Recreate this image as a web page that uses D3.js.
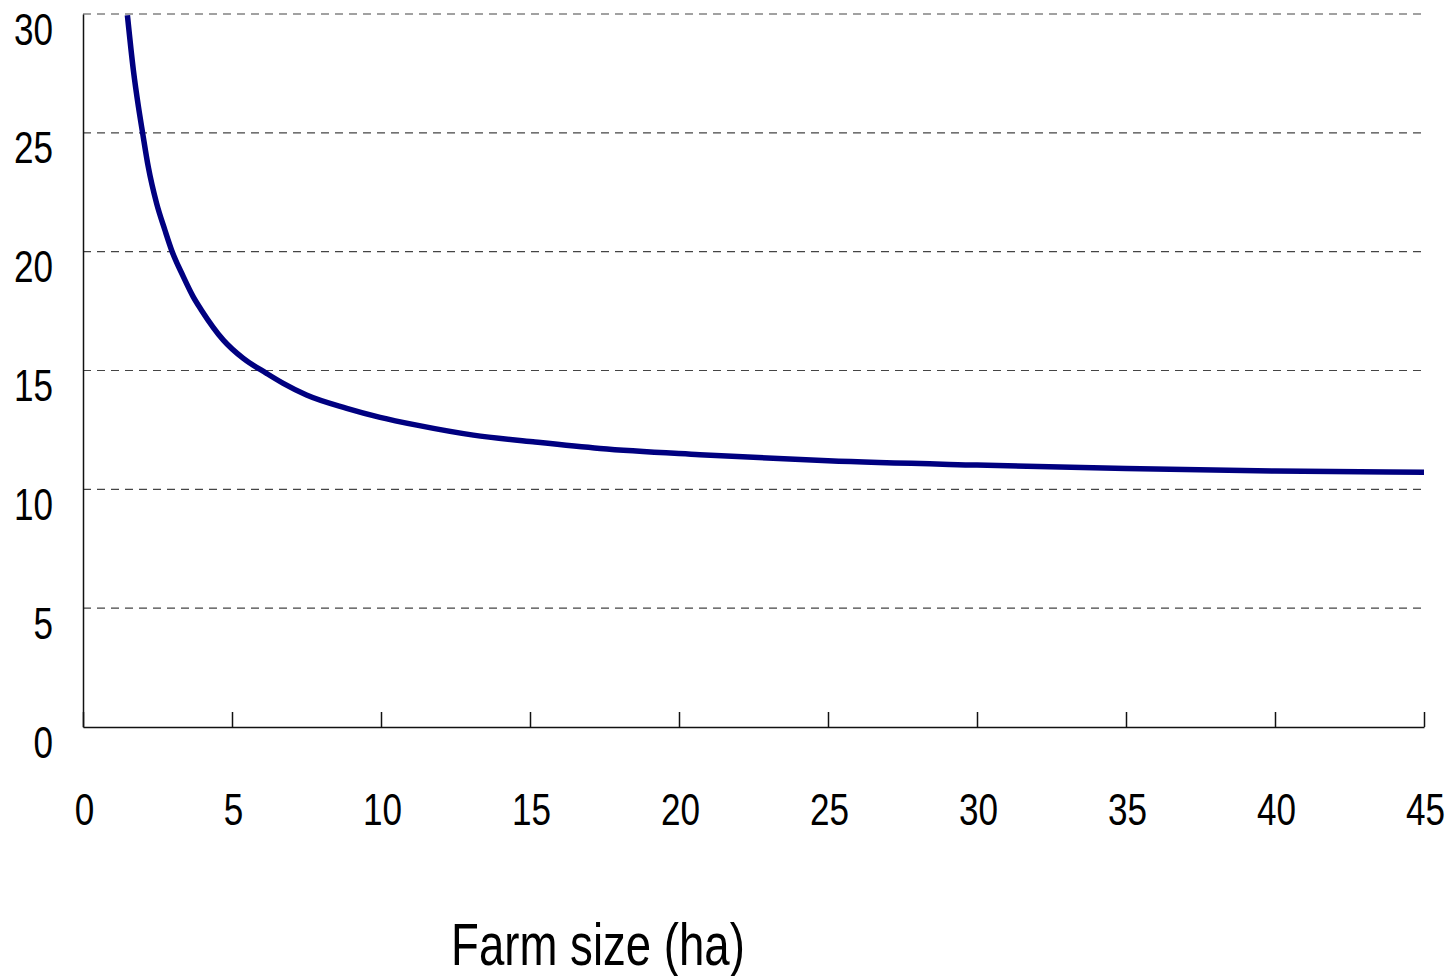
<!DOCTYPE html>
<html>
<head>
<meta charset="utf-8">
<script src="https://cdn.jsdelivr.net/npm/d3@7"></script>
<style>
  html, body { margin: 0; padding: 0; background: #fff; }
  svg { display: block; }
  text { font-family: "Liberation Sans Narrow", "Arial Narrow", "Liberation Sans", Arial, sans-serif; fill: #000; }
</style>
</head>
<body>
<svg id="chart" width="1452" height="976"></svg>
<script>
// Data
const farmSize = [1.49, 1.69, 1.86, 2.0, 2.19, 2.47, 2.75, 2.98, 3.37, 3.7, 3.97, 4.71, 5.38, 6.16, 6.72, 7.5, 8.85, 9.97, 11.2, 13.1, 15.1, 17.35, 20.7, 25, 30, 35, 40, 45];
const costValue = [29.95, 27.64, 26.1, 25.0, 23.57, 22.03, 20.9, 20.04, 18.94, 18.1, 17.55, 16.28, 15.51, 14.88, 14.46, 13.97, 13.41, 13.03, 12.7, 12.28, 12.0, 11.72, 11.46, 11.2, 11.02, 10.88, 10.77, 10.72];
const xTicks = [0, 5, 10, 15, 20, 25, 30, 35, 40, 45];
const yTicks = [0, 5, 10, 15, 20, 25, 30];
const xTitle = "Farm size (ha)";

(function () {
const svg = d3.select("#chart");
const pLeft = 83, pRight = 1424, pTop = 14, pBottom = 727;
const squeeze = 0.78;

const x = d3.scaleLinear().domain([0, 45]).range([pLeft, pRight]);
const y = d3.scaleLinear().domain([0, 30]).range([pBottom, pTop]);

// Gridlines (dashed)
svg.append("g")
  .selectAll("line")
  .data(yTicks.filter(d => d > 0))
  .join("line")
  .attr("x1", pLeft).attr("x2", pRight)
  .attr("y1", d => y(d)).attr("y2", d => y(d))
  .attr("stroke", "#444")
  .attr("stroke-width", 1.2)
  .attr("stroke-dasharray", "8,6");

// Y axis
const yAxis = svg.append("g")
  .attr("transform", `translate(${pLeft},0)`)
  .call(d3.axisLeft(y).tickValues(yTicks).tickSize(0).tickPadding(0).tickFormat(d3.format("d")));
yAxis.select(".domain").attr("stroke", "#111").attr("stroke-width", 1.5);
yAxis.selectAll("text")
  .attr("font-size", 45)
  .attr("x", 0)
  .attr("y", 0)
  .attr("dy", null)
  .attr("text-anchor", "end")
  .attr("transform", `translate(-30,30) scale(${squeeze},1)`);

// X axis (ticks pointing inward)
const xAxis = svg.append("g")
  .attr("transform", `translate(0,${pBottom})`)
  .call(d3.axisBottom(x).tickValues(xTicks).tickSizeInner(-15).tickSizeOuter(0).tickFormat(d3.format("d")));
xAxis.select(".domain").attr("stroke", "#111").attr("stroke-width", 1.5);
xAxis.selectAll(".tick line").attr("stroke", "#111").attr("stroke-width", 1.5);
xAxis.selectAll("text")
  .attr("font-size", 45)
  .attr("x", 0)
  .attr("y", 0)
  .attr("dy", null)
  .attr("text-anchor", "middle")
  .attr("transform", `translate(1,98) scale(${squeeze},1)`);

// Curve
const pts = farmSize.map((d, i) => [d, costValue[i]]);
svg.append("path")
  .datum(pts)
  .attr("fill", "none")
  .attr("stroke", "#000080")
  .attr("stroke-width", 5.5)
  .attr("stroke-linejoin", "round")
  .attr("d", d3.line().x(d => x(d[0])).y(d => y(d[1])).curve(d3.curveMonotoneX));

// X title
svg.append("text")
  .attr("x", 0)
  .attr("y", 0)
  .attr("text-anchor", "middle")
  .attr("font-size", 60)
  .attr("transform", `translate(598,965) scale(0.76,1)`)
  .text(xTitle);
})();
</script>
</body>
</html>
